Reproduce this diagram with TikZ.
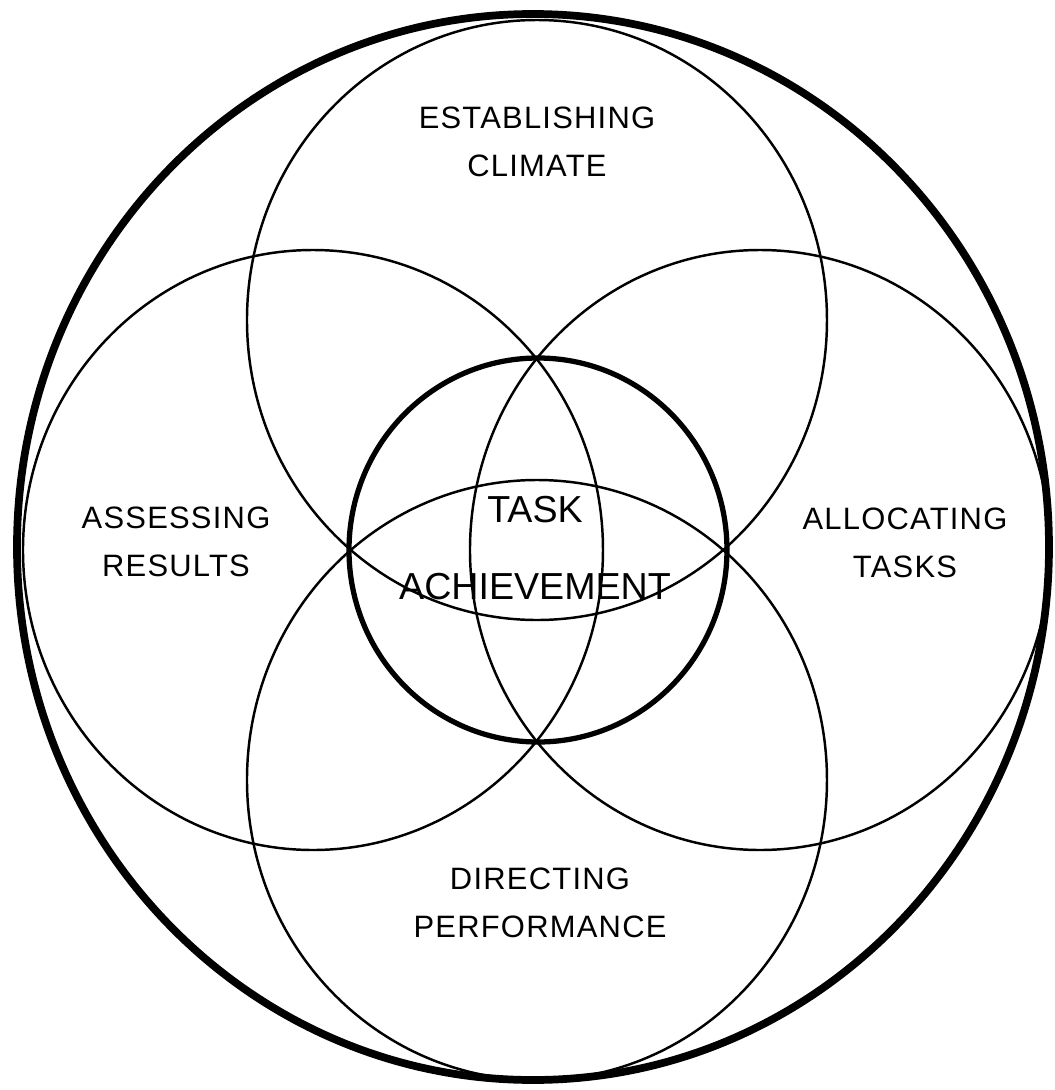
\documentclass[tikz,border=0pt]{standalone}
\usepackage{fontspec}
\setmainfont{Liberation Sans}
\newfontfamily\lblfont[LetterSpace=4]{Liberation Sans}
\usetikzlibrary{calc,positioning}
\tikzset{
    thinring/.style={line width=0.7pt, black},
    % the ring round the centre
    corering/.style={line width=1.5pt, black},
    outerring/.style={line width=2.2pt, black},
    lbl/.style={font=\lblfont\fontsize{8.8}{13.8}\selectfont, align=center, inner sep=0pt},
    corelbl/.style={font=\fontsize{10.7}{21.8}\selectfont, align=center, inner sep=0pt}
}

\begin{document}
\begin{tikzpicture}
    \useasboundingbox (-5.37,-5.40) rectangle (5.18,5.50);

    \coordinate (ctr) at (0,0);
    \coordinate (ctop) at (0,2.30);
    \coordinate (cbot) at (0,-2.30);
    \coordinate (cleft) at (-2.24,0);
    \coordinate (cright) at (2.23,0);

    \draw[thinring] (ctop) ellipse [x radius=2.90, y radius=3.00];
    \draw[thinring] (cbot) ellipse [x radius=2.90, y radius=3.00];
    \draw[thinring] (cleft) ellipse [x radius=2.90, y radius=3.00];
    \draw[thinring] (cright) ellipse [x radius=2.90, y radius=3.00];

    \draw[corering] ($(ctr)+(0.01,0)$) ellipse [x radius=1.89, y radius=1.92];
    \draw[outerring] (-0.04,0.03) ellipse [x radius=5.16, y radius=5.33];

    \node[lbl] (climate) at (0,4.08) {ESTABLISHING\\CLIMATE};
    \node[lbl] (results) at (-3.61,0.08) {ASSESSING\\RESULTS};
    \node[lbl] (tasks) at (3.68,0.07) {ALLOCATING\\TASKS};
    \node[lbl] (perform) at (0.03,-3.53) {DIRECTING\\PERFORMANCE};
    \node[corelbl] (task) at (-0.02,0.02) {TASK\\ACHIEVEMENT};
\end{tikzpicture}
\end{document}
